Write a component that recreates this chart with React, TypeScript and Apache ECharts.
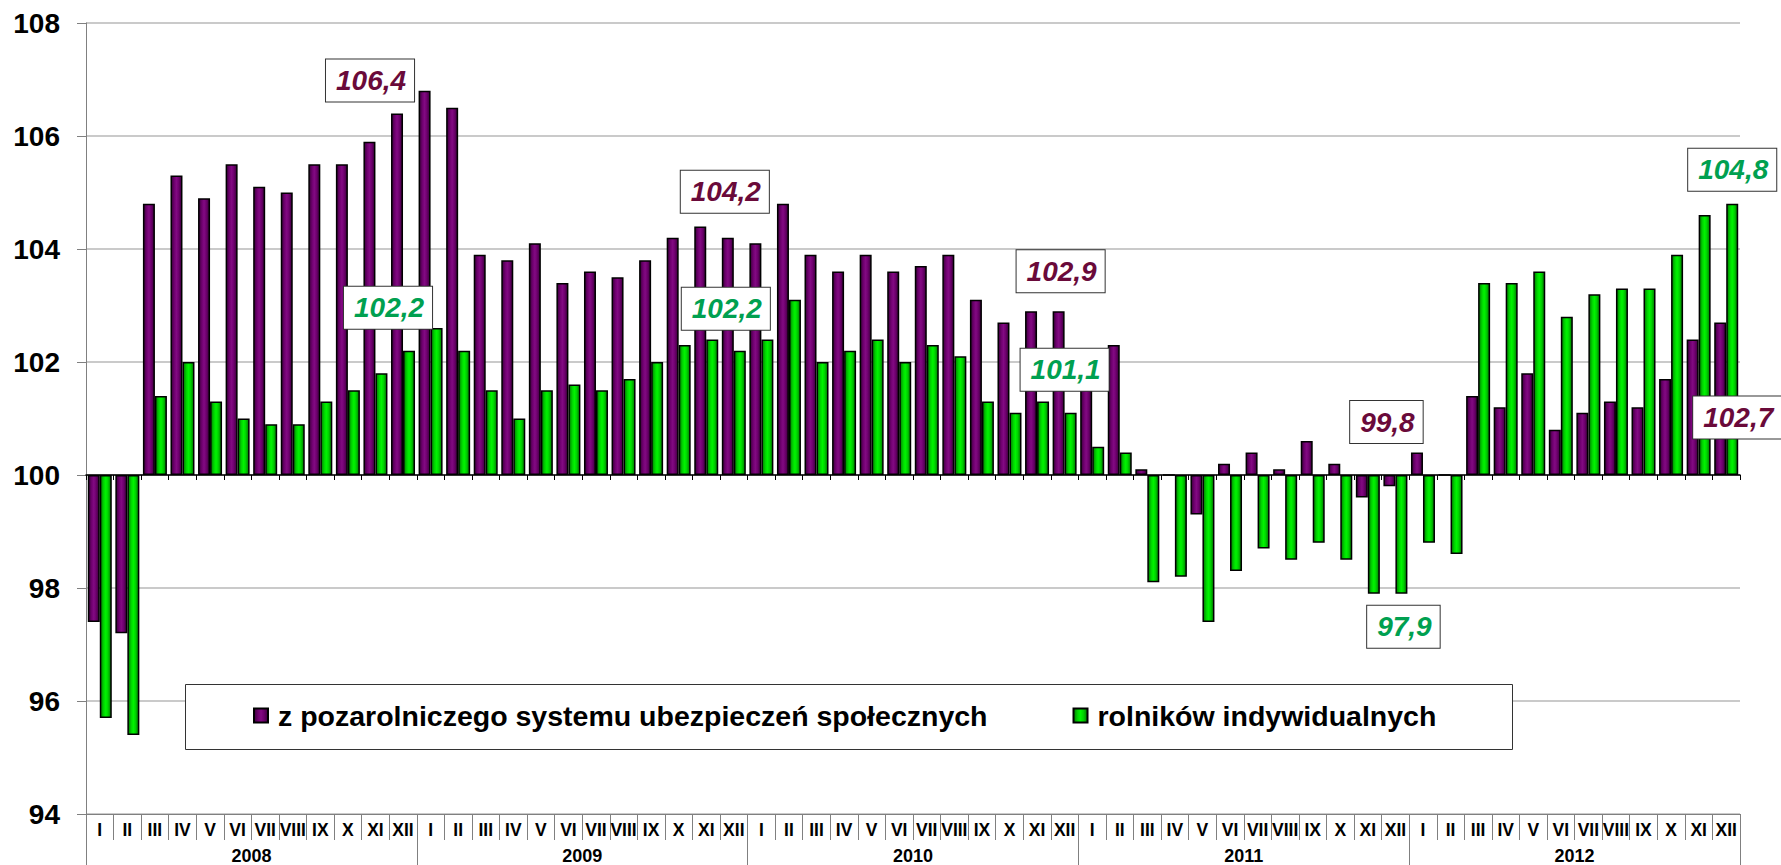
import React, { useEffect, useRef } from 'react';
import * as echarts from 'echarts';

const MONTHS = ['I', 'II', 'III', 'IV', 'V', 'VI', 'VII', 'VIII', 'IX', 'X', 'XI', 'XII'];
const YEARS = ['2008', '2009', '2010', '2011', '2012'];

const SERIES_NAMES = ['z pozarolniczego systemu ubezpieczeń społecznych', 'rolników indywidualnych'];

// z pozarolniczego systemu ubezpieczeń społecznych
const POZAROLNICZY = [
  97.4, 97.2, 104.8, 105.3, 104.9, 105.5, 105.1, 105.0, 105.5, 105.5, 105.9, 106.4,
  106.8, 106.5, 103.9, 103.8, 104.1, 103.4, 103.6, 103.5, 103.8, 104.2, 104.4, 104.2,
  104.1, 104.8, 103.9, 103.6, 103.9, 103.6, 103.7, 103.9, 103.1, 102.7, 102.9, 102.9,
  102.1, 102.3, 100.1, 100.0, 99.3, 100.2, 100.4, 100.1, 100.6, 100.2, 99.6, 99.8,
  100.4, 100.0, 101.4, 101.2, 101.8, 100.8, 101.1, 101.3, 101.2, 101.7, 102.4, 102.7,
];

// rolników indywidualnych
const ROLNICY = [
  95.7, 95.4, 101.4, 102.0, 101.3, 101.0, 100.9, 100.9, 101.3, 101.5, 101.8, 102.2,
  102.6, 102.2, 101.5, 101.0, 101.5, 101.6, 101.5, 101.7, 102.0, 102.3, 102.4, 102.2,
  102.4, 103.1, 102.0, 102.2, 102.4, 102.0, 102.3, 102.1, 101.3, 101.1, 101.3, 101.1,
  100.5, 100.4, 98.1, 98.2, 97.4, 98.3, 98.7, 98.5, 98.8, 98.5, 97.9, 97.9,
  98.8, 98.6, 103.4, 103.4, 103.6, 102.8, 103.2, 103.3, 103.3, 103.9, 104.6, 104.8,
];

const BASE = 100;
const Y_MIN = 94;
const Y_MAX = 108;
const Y_STEP = 2;

// indices of labelled (December) values
const LABELLED = [11, 23, 35, 47, 59];

const FONT = "'Liberation Sans', Arial, Helvetica, sans-serif";

// label placement styles (pixels), keyed by data index
const PURPLE_LABEL_STYLE: Record<number, { position: string; offset: number[] }> = {
  11: { position: 'top', offset: [-27, -12] },
  23: { position: 'top', offset: [-3, -25] },
  35: { position: 'top', offset: [2, -19] },
  47: { position: 'top', offset: [-3, -32] },
  59: { position: 'top', offset: [17, 116] },
};
const GREEN_LABEL_STYLE: Record<number, { position: string; offset: number[] }> = {
  11: { position: 'top', offset: [-21, -22] },
  23: { position: 'top', offset: [-14, -21] },
  35: { position: 'top', offset: [-6, -22] },
  47: { position: 'bottom', offset: [2, 12] },
  59: { position: 'top', offset: [0, -13] },
};

const fmt = (v: number) => v.toFixed(1).replace('.', ',');

function buildData(values: number[], styles: Record<number, { position: string; offset: number[] }>, color: string) {
  return values.map((v, i) => {
    const value = +(v - BASE).toFixed(2);
    if (LABELLED.indexOf(i) < 0) return value;
    const s = styles[i];
    return {
      value,
      label: {
        show: true,
        position: s.position,
        offset: s.offset,
        distance: 0,
        formatter: () => fmt(v),
        fontFamily: FONT,
        fontSize: 28,
        fontWeight: 'bold',
        fontStyle: 'italic',
        color,
        backgroundColor: '#ffffff',
        borderColor: '#333333',
        borderWidth: 1,
        padding: [5, 8, 5, 10],
        lineHeight: 32,
      },
    };
  });
}

const purpleFill = new echarts.graphic.LinearGradient(0, 0, 1, 0, [
  { offset: 0, color: '#3a003a' },
  { offset: 0.3, color: '#700070' },
  { offset: 0.5, color: '#820a82' },
  { offset: 0.7, color: '#700070' },
  { offset: 1, color: '#3a003a' },
]);
const greenFill = new echarts.graphic.LinearGradient(0, 0, 1, 0, [
  { offset: 0, color: '#007800' },
  { offset: 0.3, color: '#00d400' },
  { offset: 0.5, color: '#00f400' },
  { offset: 0.7, color: '#00d400' },
  { offset: 1, color: '#007800' },
]);

export default function App() {
  const ref = useRef<HTMLDivElement>(null);

  useEffect(() => {
    if (!ref.current) return;
    const chart = echarts.init(ref.current, undefined, { renderer: 'svg' });

    const categories: string[] = [];
    YEARS.forEach(() => MONTHS.forEach((m) => categories.push(m)));

    const option: any = {
      animation: false,
      backgroundColor: '#ffffff',
      grid: { left: 86, top: 23, right: 41, bottom: 51, containLabel: false },
      legend: {
        data: SERIES_NAMES,
        left: 253,
        top: 701,
        padding: 0,
        itemGap: 85,
        itemWidth: 14,
        itemHeight: 14,
        icon: 'rect',
        z: 20,
        selectedMode: false,
        textStyle: {
          fontFamily: FONT,
          fontSize: 28.5,
          fontWeight: 'bold',
          color: '#000',
          padding: [0, 0, 0, 5],
        },
      },
      graphic: [
        {
          type: 'rect',
          left: 185,
          top: 684,
          z: 10,
          shape: { width: 1327, height: 65 },
          style: { fill: '#ffffff', stroke: '#333333', lineWidth: 1 },
        },
      ],
      xAxis: [
        {
          type: 'category',
          data: categories,
          position: 'bottom',
          axisLine: { show: true, onZero: true, lineStyle: { color: '#000', width: 1.5 } },
          axisTick: { show: true, interval: 0, length: 5, lineStyle: { color: '#000' } },
          axisLabel: { show: false },
          splitLine: { show: false },
          z: 3,
        },
        {
          type: 'category',
          data: categories,
          position: 'bottom',
          axisLine: { show: true, onZero: false, lineStyle: { color: '#808080', width: 1 } },
          axisTick: { show: true, interval: 0, length: 26, lineStyle: { color: '#808080' } },
          axisLabel: {
            interval: 0,
            margin: 7,
            fontFamily: FONT,
            fontSize: 17.5,
            fontWeight: 'bold',
            color: '#000',
          },
          splitLine: { show: false },
        },
        {
          type: 'category',
          data: YEARS,
          position: 'bottom',
          axisLine: { show: false, onZero: false },
          axisTick: { show: true, interval: 0, length: 51, lineStyle: { color: '#808080' } },
          axisLabel: {
            interval: 0,
            margin: 33,
            fontFamily: FONT,
            fontSize: 18,
            fontWeight: 'bold',
            color: '#000',
          },
          splitLine: { show: false },
        },
      ],
      yAxis: {
        type: 'value',
        min: Y_MIN - BASE,
        max: Y_MAX - BASE,
        interval: Y_STEP,
        axisLine: { show: true, lineStyle: { color: '#808080', width: 1 } },
        axisTick: { show: true, length: 9, lineStyle: { color: '#808080' } },
        axisLabel: {
          formatter: (v: number) => String(Math.round(v + BASE)),
          margin: 26,
          fontFamily: FONT,
          fontSize: 28,
          fontWeight: 'bold',
          color: '#000',
        },
        splitLine: { show: true, lineStyle: { color: '#b8b8b8', width: 1.5 } },
      },
      series: [
        {
          name: SERIES_NAMES[0],
          type: 'bar',
          xAxisIndex: 0,
          yAxisIndex: 0,
          barWidth: 12,
          barGap: '0%',
          data: buildData(POZAROLNICZY, PURPLE_LABEL_STYLE, '#6a0a3a'),
          itemStyle: { color: purpleFill, borderColor: '#000', borderWidth: 1.5 },
          z: 2,
        },
        {
          name: SERIES_NAMES[1],
          type: 'bar',
          xAxisIndex: 0,
          yAxisIndex: 0,
          barWidth: 12,
          barGap: '0%',
          data: buildData(ROLNICY, GREEN_LABEL_STYLE, '#00a050'),
          itemStyle: { color: greenFill, borderColor: '#000', borderWidth: 1.5 },
          z: 2,
        },
      ],
    };

    chart.setOption(option);
    return () => chart.dispose();
  }, []);

  return (
    <div
      ref={ref}
      style={{ position: 'absolute', left: 0, top: 0, width: 1781, height: 865, background: '#fff' }}
    />
  );
}
